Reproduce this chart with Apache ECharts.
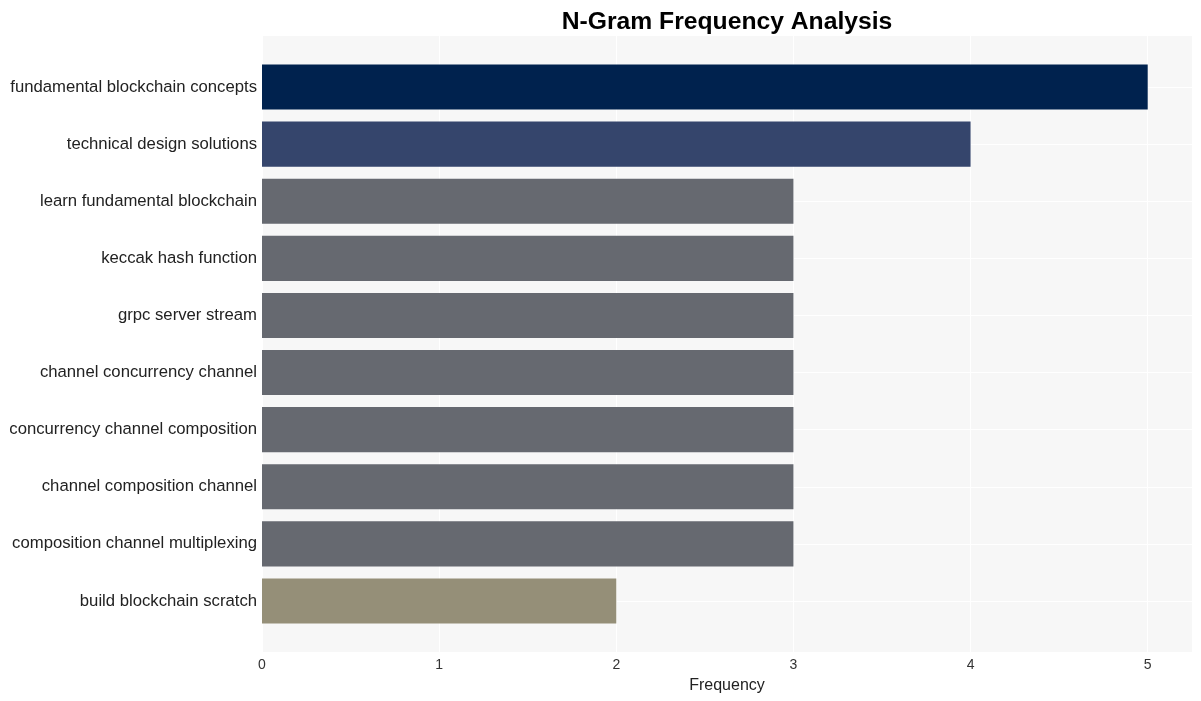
<!DOCTYPE html>
<html>
<head>
<meta charset="utf-8">
<script src="https://cdn.jsdelivr.net/npm/echarts@6/dist/echarts.min.js"></script>
<style>html,body{margin:0;padding:0;background:#fff;}#c{width:1201px;height:701px;}</style>
</head>
<body>
<div id="c"></div>
<script>
const categories = [
  "fundamental blockchain concepts",
  "technical design solutions",
  "learn fundamental blockchain",
  "keccak hash function",
  "grpc server stream",
  "channel concurrency channel",
  "concurrency channel composition",
  "channel composition channel",
  "composition channel multiplexing",
  "build blockchain scratch"
];
const values = [5, 4, 3, 3, 3, 3, 3, 3, 3, 2];
const barColors = ["#00224e", "#35456c", "#666970", "#666970", "#666970", "#666970", "#666970", "#666970", "#666970", "#958f78"];
const xTicks = [0, 1, 2, 3, 4, 5];

const font = "'Liberation Sans', Arial, sans-serif";
const chart = echarts.init(document.getElementById('c'), null, {renderer: 'canvas'});
const xCommon = {
  type: 'value', min: 0, max: 5.25, interval: 1,
  axisLine: {show: false}, axisTick: {show: false}
};
chart.setOption({
  backgroundColor: '#ffffff',
  animation: false,
  title: {
    text: 'N-Gram Frequency Analysis',
    left: 722, top: 5, textAlign: 'center',
    textStyle: {fontFamily: font, fontSize: 24.7, fontWeight: 'bold', color: '#000'}
  },
  grid: [
    {left: 262, right: 9, top: 36, bottom: 49, show: true, backgroundColor: '#f7f7f7', borderWidth: 0},
    {left: 262, right: 9, top: 58.5, bottom: 71.5, show: false}
  ],
  xAxis: [
    Object.assign({}, xCommon, {
      gridIndex: 0,
      name: 'Frequency', nameLocation: 'middle', nameGap: 26,
      nameTextStyle: {fontFamily: font, fontSize: 16, color: '#222'},
      axisLabel: {fontFamily: font, fontSize: 14, color: '#333', margin: 6,
        formatter: function (v) { return xTicks.indexOf(v) >= 0 ? String(v) : ''; }},
      splitLine: {show: true, lineStyle: {color: '#ffffff', width: 1}}
    }),
    Object.assign({}, xCommon, {
      gridIndex: 1, axisLabel: {show: false}, splitLine: {show: false}
    })
  ],
  yAxis: [
    {type: 'value', gridIndex: 0, show: false, min: 0, max: 1, splitLine: {show: false}},
    {
      type: 'category', gridIndex: 1, data: categories, inverse: true,
      axisLine: {show: false}, axisTick: {show: false, alignWithLabel: true},
      axisLabel: {fontFamily: font, fontSize: 16.7, color: '#222', margin: 5},
      splitLine: {show: true, alignWithLabel: true, lineStyle: {color: '#ffffff', width: 1}}
    }
  ],
  series: [{
    type: 'bar', xAxisIndex: 1, yAxisIndex: 1,
    data: values.map((v, i) => ({value: v, itemStyle: {color: barColors[i]}})),
    barCategoryGap: '21%'
  }]
});
</script>
</body>
</html>
